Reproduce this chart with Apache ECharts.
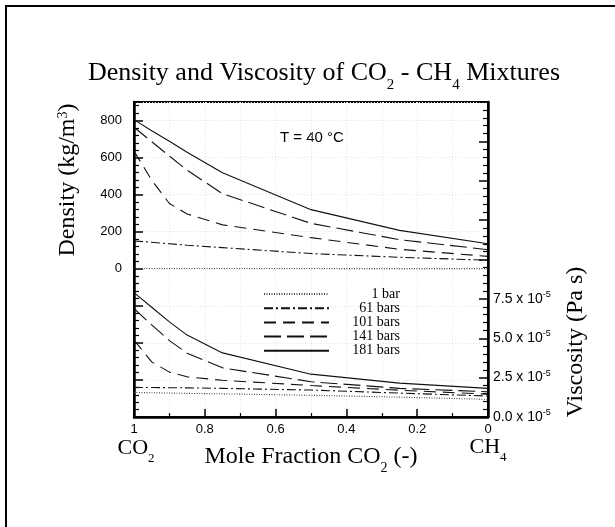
<!DOCTYPE html>
<html>
<head>
<meta charset="utf-8">
<script src="https://cdn.jsdelivr.net/npm/echarts@6/dist/echarts.min.js"></script>
<style>
  html, body { margin: 0; padding: 0; background: #fff; }
  #chart { width: 615px; height: 527px; }
</style>
</head>
<body>
<div id="chart"></div>
<script>
// mole fraction of CO2 at each computed point
const moleFraction = [1, 0.95, 0.9, 0.85, 0.75, 0.5, 0.25, 0];
const pressures = ['1 bar', '61 bars', '101 bars', '141 bars', '181 bars'];

// density, kg/m3
const density1 = [1.7, 1.6, 1.5, 1.4, 1.3, 1.1, 0.85, 0.62];
const density61 = [150, 143, 135, 127, 114, 82, 62, 46];
const density101 = [635, 478, 352, 296, 237, 168, 105, 67];
const density141 = [764, 686, 608, 532, 405, 245, 157, 103];
const density181 = [805, 745, 688, 629, 518, 319, 207, 135];

// viscosity, x 10^-5 Pa s
const viscosity1 = [1.56, 1.54, 1.52, 1.5, 1.47, 1.38, 1.26, 1.12];
const viscosity61 = [1.88, 1.87, 1.86, 1.85, 1.82, 1.71, 1.52, 1.33];
const viscosity101 = [4.88, 3.5, 2.85, 2.55, 2.33, 2.0, 1.7, 1.45];
const viscosity141 = [6.89, 5.85, 4.85, 4.05, 3.12, 2.24, 1.82, 1.6];
const viscosity181 = [7.9, 6.97, 6.04, 5.2, 4.07, 2.72, 2.15, 1.82];

const densityTicks = [0, 200, 400, 600, 800];
const viscosityTicks = [0, 2.5, 5, 7.5];

const densities = [density1, density61, density101, density141, density181];
const viscosities = [viscosity1, viscosity61, viscosity101, viscosity141, viscosity181];

const dashes = [[1, 1.5], [9, 3, 2, 3], [12, 7], [17, 6], 'solid'];

const serif = '"Liberation Serif", "Times New Roman", serif';
const sans = '"Liberation Sans", Arial, sans-serif';

function pairs(ys) {
    return moleFraction.map((x, i) => [x, ys[i]]);
}

function buildSeries() {
    const series = [];
    pressures.forEach((name, k) => {
        const lineStyle = {
            color: k === 0 ? '#444' : '#111',
            width: 1.1,
            type: dashes[k]
        };
        series.push({
            name: name,
            type: 'line',
            yAxisIndex: 0,
            data: pairs(densities[k]),
            symbol: 'none',
            lineStyle: lineStyle
        });
        series.push({
            name: name,
            type: 'line',
            yAxisIndex: 1,
            data: pairs(viscosities[k]),
            symbol: 'none',
            lineStyle: lineStyle
        });
    });
    return series;
}

const chart = echarts.init(document.getElementById('chart'), null, {renderer: 'canvas'});

const gridLine = {show: true, lineStyle: {color: '#e4e4e4', type: [1, 2], width: 1}};

chart.setOption({
    animation: false,
    backgroundColor: '#fff',
    grid: {
        left: 134, right: 127, top: 102, bottom: 110,
        show: true, borderColor: '#000', borderWidth: 2,
        containLabel: false, outerBoundsMode: 'none'
    },
    legend: {
        orient: 'vertical',
        left: 258,
        top: 282,
        itemWidth: 65,
        itemHeight: 14,
        itemGap: 0.2,
        data: pressures,
        itemStyle: {color: 'transparent', borderWidth: 0, opacity: 0},
        formatter: name => '{r|' + name + '}',
        textStyle: {
            rich: {
                r: {width: 66, align: 'right', fontFamily: serif, fontSize: 14, color: '#000', lineHeight: 14}
            }
        }
    },
    xAxis: {
        type: 'value',
        min: 0,
        max: 1,
        interval: 0.2,
        inverse: true,
        axisLine: {show: true, onZero: false, lineStyle: {color: '#000', width: 2.5}},
        axisTick: {show: true, inside: true, length: 8, lineStyle: {color: '#000', width: 1.5}},
        minorTick: {show: true, splitNumber: 2, length: 4, lineStyle: {color: '#000', width: 1.2}},
        axisLabel: {margin: 6, fontFamily: sans, fontSize: 13, color: '#000'},
        splitLine: gridLine,
        minorSplitLine: gridLine
    },
    yAxis: [
        {
            type: 'value',
            position: 'left',
            min: -800,
            max: 900,
            interval: 200,
            axisLine: {show: true, onZero: false, lineStyle: {color: '#000', width: 2.5}},
            axisTick: {show: true, inside: true, length: 9, lineStyle: {color: '#000', width: 1.5}},
            minorTick: {show: true, splitNumber: 5, length: 5, lineStyle: {color: '#000', width: 1.2}},
            axisLabel: {
                margin: 12, fontFamily: sans, fontSize: 13, color: '#000',
                showMaxLabel: false,
                formatter: v => densityTicks.indexOf(v) >= 0 ? String(v) : ''
            },
            splitLine: gridLine
        },
        {
            type: 'value',
            position: 'right',
            min: 0,
            max: 20,
            interval: 2.5,
            axisLine: {show: true, onZero: false, lineStyle: {color: '#000', width: 2.5}},
            axisTick: {show: true, inside: true, length: 9, lineStyle: {color: '#000', width: 1.5}},
            minorTick: {show: true, splitNumber: 5, length: 5, lineStyle: {color: '#000', width: 1.2}},
            axisLabel: {
                margin: 5, color: '#000',
                formatter: v => viscosityTicks.indexOf(v) >= 0 ? '{n|' + v.toFixed(1) + ' x 10}{s|-5}' : '',
                rich: {
                    n: {fontFamily: sans, fontSize: 14, color: '#000', lineHeight: 18},
                    s: {fontFamily: sans, fontSize: 9, color: '#000', lineHeight: 9, verticalAlign: 'top'}
                }
            },
            splitLine: {show: false}
        }
    ],
    graphic: [
        {
            type: 'rect',
            silent: true,
            shape: {x: 6, y: 6, width: 640, height: 560},
            style: {fill: 'none', stroke: '#000', lineWidth: 2}
        },
        {
            type: 'text',
            x: 324, y: 73,
            style: {
                text: '{t|Density and Viscosity of CO}{b|2}{t| - CH}{b|4}{t| Mixtures}',
                align: 'center', verticalAlign: 'middle',
                rich: {
                    t: {fontFamily: serif, fontSize: 26, fill: '#000', lineHeight: 26},
                    b: {fontFamily: serif, fontSize: 15, fill: '#000', lineHeight: 15, verticalAlign: 'bottom', padding: [0, 0, -7, 0]}
                }
            }
        },
        {
            type: 'text',
            x: 68, y: 180,
            rotation: Math.PI / 2,
            style: {
                text: '{t|Density (kg/m}{p|3}{t|)}',
                align: 'center', verticalAlign: 'middle',
                rich: {
                    t: {fontFamily: serif, fontSize: 24, fill: '#000', lineHeight: 24},
                    p: {fontFamily: serif, fontSize: 14, fill: '#000', lineHeight: 14, verticalAlign: 'top'}
                }
            }
        },
        {
            type: 'text',
            x: 576, y: 342,
            rotation: Math.PI / 2,
            style: {
                text: 'Viscosity (Pa s)',
                align: 'center', verticalAlign: 'middle',
                fontFamily: serif, fontSize: 24, fill: '#000'
            }
        },
        {
            type: 'text',
            x: 280, y: 138,
            style: {
                text: 'T = 40 °C',
                align: 'left', verticalAlign: 'middle',
                fontFamily: sans, fontSize: 15, fill: '#000'
            }
        },
        {
            type: 'text',
            x: 136, y: 448,
            style: {
                text: '{t|CO}{b|2}',
                align: 'center', verticalAlign: 'middle',
                rich: {
                    t: {fontFamily: serif, fontSize: 22, fill: '#000', lineHeight: 22},
                    b: {fontFamily: serif, fontSize: 13, fill: '#000', lineHeight: 13, verticalAlign: 'bottom', padding: [0, 0, -6, 0]}
                }
            }
        },
        {
            type: 'text',
            x: 311, y: 457,
            style: {
                text: '{t|Mole Fraction CO}{b|2}{t| (-)}',
                align: 'center', verticalAlign: 'middle',
                rich: {
                    t: {fontFamily: serif, fontSize: 24, fill: '#000', lineHeight: 24},
                    b: {fontFamily: serif, fontSize: 14, fill: '#000', lineHeight: 14, verticalAlign: 'bottom', padding: [0, 0, -6, 0]}
                }
            }
        },
        {
            type: 'text',
            x: 488, y: 447,
            style: {
                text: '{t|CH}{b|4}',
                align: 'center', verticalAlign: 'middle',
                rich: {
                    t: {fontFamily: serif, fontSize: 22, fill: '#000', lineHeight: 22},
                    b: {fontFamily: serif, fontSize: 13, fill: '#000', lineHeight: 13, verticalAlign: 'bottom', padding: [0, 0, -6, 0]}
                }
            }
        }
    ],
    series: buildSeries()
});
</script>
</body>
</html>
